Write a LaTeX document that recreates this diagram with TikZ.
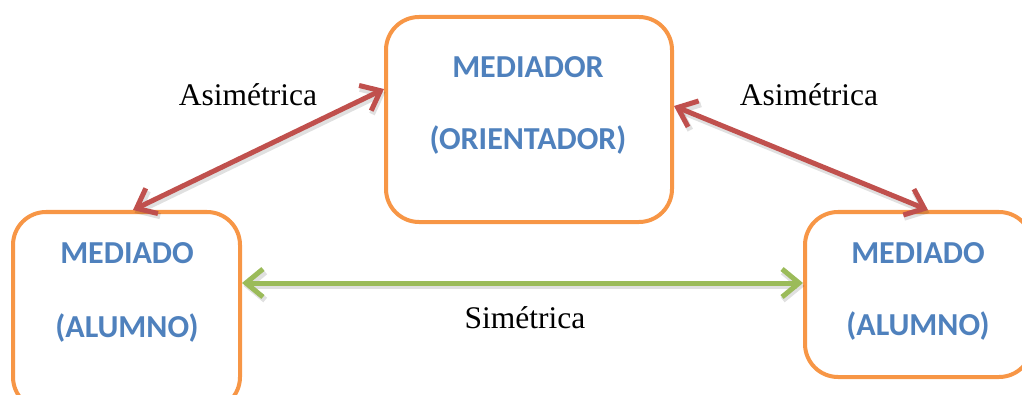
\documentclass[tikz,border=0pt]{standalone}
\usepackage{fontspec}
\setmainfont{Liberation Serif}
\newfontfamily\boxfont{Carlito}
\usetikzlibrary{arrows.meta}
\definecolor{boxorange}{HTML}{F79646}
\definecolor{relred}{HTML}{C0504D}
\definecolor{relgreen}{HTML}{9BBB59}
\definecolor{txtblue}{HTML}{4F81BD}
\tikzset{
  rolebox/.style={draw=boxorange, line width=4pt, rounded corners=33pt, fill=white, inner sep=0pt},
  roletext/.style={text=txtblue, font=\boxfont\bfseries\fontsize{32}{38}\selectfont, anchor=base, inner sep=0pt},
  rellabel/.style={font=\fontsize{31.5}{37}\selectfont, anchor=base, inner sep=0pt},
  relarrow/.style={line width=5pt, {Straight Barb[length=17pt,width=28pt]}-{Straight Barb[length=17pt,width=28pt]},
    preaction={draw=black, opacity=0.12, line width=6pt, transform canvas={shift={(1.5pt,-3pt)}}}},
}
\begin{document}
\begin{tikzpicture}[x=1pt,y=1pt]
\useasboundingbox (0,0) rectangle (1022,394);
\clip (0,0) rectangle (1022,394);
% boxes
\node[rolebox, minimum width=286pt, minimum height=205pt] (top) at (529,274.5) {};
\node[rolebox, minimum width=227pt, minimum height=198pt] (left) at (126.5,83) {};
\node[rolebox, minimum width=227pt, minimum height=165pt] (right) at (918.5,99.5) {};
% box texts
\node[roletext] (t1) at (528,316) {MEDIADOR};
\node[roletext] (t2) at (528,244) {(ORIENTADOR)};
\node[roletext] (l1) at (127,131) {MEDIADO};
\node[roletext] (l2) at (127,57) {(ALUMNO)};
\node[roletext] (r1) at (918,131) {MEDIADO};
\node[roletext] (r2) at (918,59) {(ALUMNO)};
% relations
\draw[relarrow, draw=relred] ([xshift=6.5pt]left.north) -- ([yshift=30.5pt]top.west);
\draw[relarrow, draw=relred] ([yshift=13.5pt]top.east) -- ([xshift=9.5pt]right.north);
\draw[relarrow, draw=relgreen] ([yshift=28pt]left.east) -- ([yshift=11.5pt]right.west);
% labels
\node[rellabel] (la) at (248,288) {Asimétrica};
\node[rellabel] (ra) at (809,288) {Asimétrica};
\node[rellabel] (sa) at (525,66) {Simétrica};
\end{tikzpicture}
\end{document}
